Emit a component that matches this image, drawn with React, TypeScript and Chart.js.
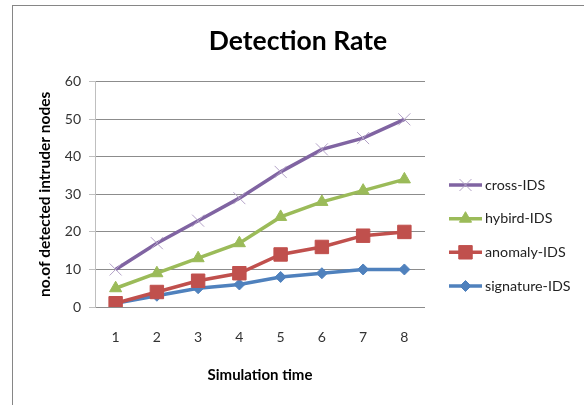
import React, { useEffect, useRef } from "react";
import { Chart, registerables } from "chart.js";
import { drawPoint } from "chart.js/helpers";

Chart.register(...registerables);

const categories = ["1", "2", "3", "4", "5", "6", "7", "8"];
const crossIDS = [10, 17, 23, 29, 36, 42, 45, 50];
const hybirdIDS = [5, 9, 13, 17, 24, 28, 31, 34];
const anomalyIDS = [1, 4, 7, 9, 14, 16, 19, 20];
const signatureIDS = [1, 3, 5, 6, 8, 9, 10, 10];
const seriesNames = ["cross-IDS", "hybird-IDS", "anomaly-IDS", "signature-IDS"];

const FONT = "Lato, 'Open Sans', sans-serif";

const legendPlugin = {
  id: "sideLegend",
  afterDraw(chart: any) {
    const ctx = chart.ctx;
    const x0 = 449;
    const x1 = 482;
    const rows = [185, 218.7, 252.3, 286];
    ctx.save();
    chart.data.datasets.forEach((ds: any, i: number) => {
      const y = rows[i];
      ctx.strokeStyle = ds.borderColor;
      ctx.lineWidth = 3.5;
      ctx.lineCap = "butt";
      ctx.beginPath();
      ctx.moveTo(x0, y);
      ctx.lineTo(x1, y);
      ctx.stroke();
      ctx.fillStyle = ds.pointBackgroundColor;
      ctx.strokeStyle = ds.pointBorderColor;
      ctx.lineWidth = ds.pointBorderWidth;
      drawPoint(ctx, { pointStyle: ds.pointStyle, radius: ds.pointRadius, borderWidth: ds.pointBorderWidth, rotation: 0 }, (x0 + x1) / 2, y);
      ctx.fillStyle = "#222";
      ctx.font = `14.3px ${FONT}`;
      ctx.textBaseline = "middle";
      ctx.textAlign = "left";
      ctx.fillText(ds.label, 485, y);
    });
    ctx.restore();
  },
};

export default function App() {
  const ref = useRef<HTMLCanvasElement | null>(null);
  useEffect(() => {
    if (!ref.current) return;
    const chart = new Chart(ref.current, {
      type: "line",
      data: {
        labels: categories,
        datasets: [
          {
            label: seriesNames[0],
            data: crossIDS,
            borderColor: "#8064A2",
            borderWidth: 3.5,
            pointStyle: "crossRot",
            pointRadius: 8.5,
            pointBorderColor: "#B3A2C7",
            pointBackgroundColor: "#B3A2C7",
            pointBorderWidth: 1,
          },
          {
            label: seriesNames[1],
            data: hybirdIDS,
            borderColor: "#9BBB59",
            borderWidth: 3.5,
            pointStyle: "triangle",
            pointRadius: 7,
            pointBorderColor: "#9BBB59",
            pointBackgroundColor: "#9BBB59",
            pointBorderWidth: 1,
          },
          {
            label: seriesNames[2],
            data: anomalyIDS,
            borderColor: "#C0504D",
            borderWidth: 3.5,
            pointStyle: "rect",
            pointRadius: 9.5,
            pointBorderColor: "#C0504D",
            pointBackgroundColor: "#C0504D",
            pointBorderWidth: 1,
          },
          {
            label: seriesNames[3],
            data: signatureIDS,
            borderColor: "#4F81BD",
            borderWidth: 3.5,
            pointStyle: "rectRot",
            pointRadius: 5.5,
            pointBorderColor: "#4F81BD",
            pointBackgroundColor: "#4F81BD",
            pointBorderWidth: 1,
          },
        ],
      },
      options: {
        animation: false,
        responsive: false,
        maintainAspectRatio: false,
        layout: { padding: { left: 12, right: 0, top: 0, bottom: 0 } },
        plugins: {
          legend: { display: false },
          tooltip: { enabled: false },
          title: {
            display: true,
            text: "Detection Rate",
            color: "#000",
            font: { family: FONT, size: 26.5, weight: "bold" },
            padding: { top: 26, bottom: 24 },
          },
        },
        scales: {
          x: {
            offset: true,
            grid: { display: false, drawTicks: false },
            border: { display: false },
            ticks: { color: "#333", font: { family: FONT, size: 14 }, padding: 22 },
            title: {
              display: true,
              text: "Simulation time",
              color: "#000",
              font: { family: FONT, size: 15, weight: "bold" },
              padding: { top: 0, bottom: 21 },
            },
            afterFit(scale: any) {
              scale.height = 98;
            },
          },
          y: {
            min: 0,
            max: 60,
            ticks: { stepSize: 10, color: "#333", font: { family: FONT, size: 14 }, padding: 8 },
            grid: { color: "#8C8C8C", tickColor: "#BFBFBF", tickLength: 6 },
            border: { display: true, color: "#BFBFBF" },
            title: {
              display: true,
              text: "no.of detected intruder nodes",
              color: "#000",
              font: { family: FONT, size: 15.5, weight: "bold" },
              padding: { top: 24, bottom: 0 },
            },
            afterFit(scale: any) {
              scale.width = 83;
            },
          },
          legendSpace: {
            type: "linear",
            position: "right",
            display: true,
            grid: { display: false, drawOnChartArea: false, drawTicks: false },
            border: { display: false },
            ticks: { display: false },
            afterFit(scale: any) {
              scale.width = 159;
            },
          },
        },
      },
      plugins: [legendPlugin],
    });
    return () => chart.destroy();
  }, []);
  return (
    <div style={{ position: "absolute", left: 0, top: 0, width: 584, height: 405, background: "#fff", overflow: "hidden" }}>
      <div style={{ position: "absolute", left: 12, top: 5, width: 600, height: 420, borderTop: "1px solid #868686", borderLeft: "1px solid #868686" }} />
      <canvas ref={ref} width={584} height={405} style={{ position: "absolute", left: 0, top: 0, width: 584, height: 405 }} />
    </div>
  );
}
